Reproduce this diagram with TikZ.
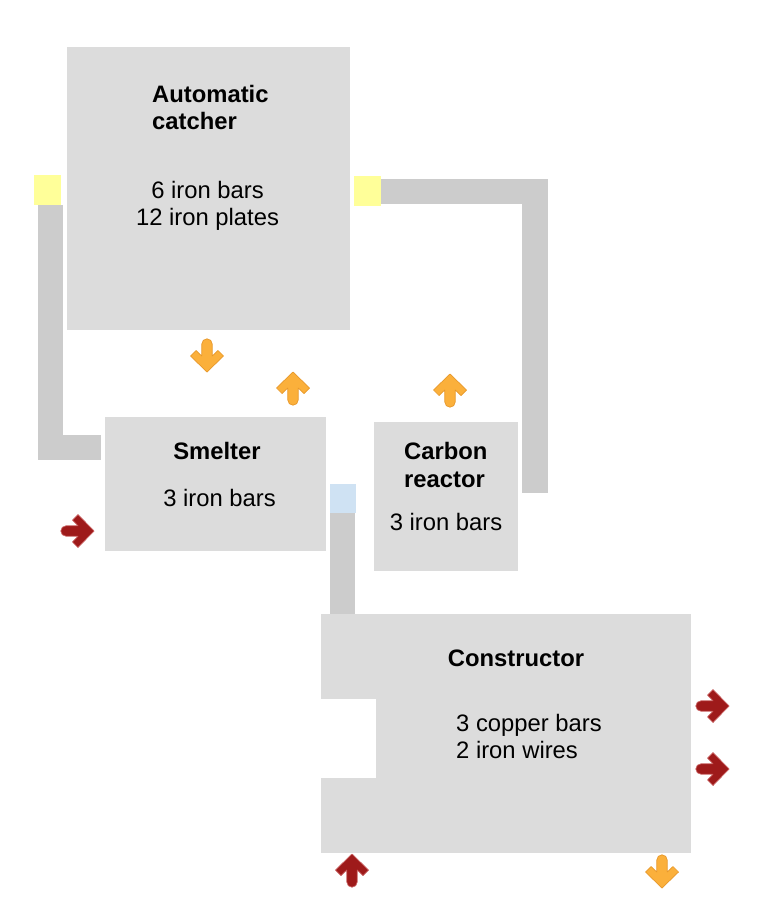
\documentclass[tikz,border=0pt]{standalone}
\usepackage{fontspec}
\setmainfont{Liberation Sans}
\definecolor{boxgray}{HTML}{DCDCDC}
\definecolor{belt}{HTML}{CCCCCC}
\definecolor{yel}{HTML}{FFFF99}
\definecolor{blu}{HTML}{CFE2F3}
\definecolor{orfill}{HTML}{FBB03B}
\definecolor{ordraw}{HTML}{E8982A}
\definecolor{rdfill}{HTML}{9E1A1A}
\definecolor{rddraw}{HTML}{C86060}
\tikzset{
  fatarrow/.pic={
    \filldraw[line width=0.7pt, line join=round, pic actions]
      (16,0) -- (0,-16.5) -- (-5.5,-11) -- (0,-5.2) -- (-12,-5.2)
      arc[start angle=-90,end angle=-270,radius=5.2]
      -- (0,5.2) -- (-5.5,11) -- (0,16.5) -- cycle;
  },
  orarrow/.style={fill=orfill, draw=ordraw},
  rdarrow/.style={fill=rdfill, draw=rddraw},
  txt/.style={font=\fontsize{23.8}{27}\selectfont, inner sep=0pt},
  ttl/.style={txt, font=\fontsize{23.8}{27}\selectfont\bfseries},
}
\begin{document}
\begin{tikzpicture}[x=1pt,y=-1pt]
\useasboundingbox (0,0) rectangle (768,912);
\fill[white] (0,0) rectangle (768,912);
% belts
\fill[belt] (38,205) rectangle (63,460);
\fill[belt] (38,435) rectangle (101,460);
\fill[belt] (381,179) rectangle (548,204);
\fill[belt] (522,179) rectangle (548,493);
\fill[belt] (330,513) rectangle (355,614);
% boxes
\fill[boxgray] (67,47) rectangle (350,330);
\fill[boxgray] (105,417) rectangle (326,551);
\fill[boxgray] (374,422) rectangle (518,571);
\fill[boxgray] (321,614) rectangle (691,853);
\fill[white] (321,699) rectangle (376,778);
% ports
\fill[yel] (34,175) rectangle (61,205);
\fill[yel] (354,176) rectangle (381,206);
\fill[blu] (330,484) rectangle (356,513);
% texts
\node[ttl, anchor=base west] (ac1) at (152,103) {Automatic};
\node[ttl, anchor=base west] (ac2) at (152,130) {catcher};
\node[txt, anchor=base] (ac3) at (207.5,198) {6 iron bars};
\node[txt, anchor=base] (ac4) at (207.5,225) {12 iron plates};
\node[ttl, anchor=base] (sm1) at (217,459) {Smelter};
\node[txt, anchor=base] (sm2) at (219.5,506) {3 iron bars};
\node[ttl, anchor=base west] (cr1) at (404,459) {Carbon};
\node[ttl, anchor=base west] (cr2) at (404,487) {reactor};
\node[txt, anchor=base] (cr3) at (446,530) {3 iron bars};
\node[ttl, anchor=base] (co1) at (516,666) {Constructor};
\node[txt, anchor=base west] (co2) at (456,731) {3 copper bars};
\node[txt, anchor=base west] (co3) at (456,758) {2 iron wires};
% arrows
\pic[orarrow, rotate=-90] at (207,356) {fatarrow};
\pic[orarrow, rotate=90] at (293,388) {fatarrow};
\pic[orarrow, rotate=90] at (450,390) {fatarrow};
\pic[rdarrow] at (78,531) {fatarrow};
\pic[rdarrow] at (713,706) {fatarrow};
\pic[rdarrow] at (713,769) {fatarrow};
\pic[rdarrow, rotate=90] at (352,870) {fatarrow};
\pic[orarrow, rotate=-90] at (662,872) {fatarrow};
\end{tikzpicture}
\end{document}
